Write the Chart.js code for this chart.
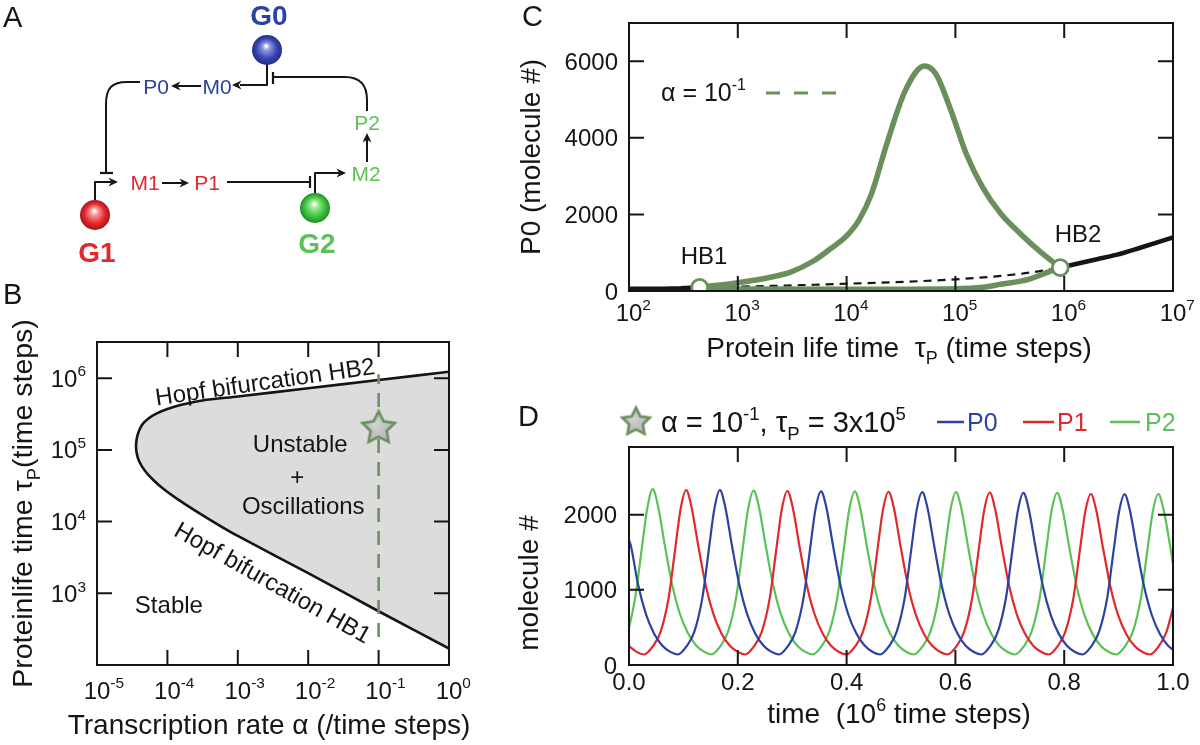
<!DOCTYPE html>
<html><head><meta charset="utf-8">
<script src="https://cdn.jsdelivr.net/npm/chart.js@4/dist/chart.umd.min.js"></script>
<style>
html,body{margin:0;padding:0;background:#fff;}
#wrap{position:relative;width:1200px;height:745px;overflow:hidden;}
#wrap canvas{position:absolute;left:0;top:0;}
</style></head>
<body>
<div id="wrap">
<canvas id="cA" width="1200" height="745"></canvas>
<canvas id="cB" width="1200" height="745"></canvas>
<canvas id="cC" width="1200" height="745"></canvas>
<canvas id="cD" width="1200" height="745"></canvas>
</div>
<script>
// ---------------- DATA ----------------
// Panel A: gene network
const A_genes = ['G0','G1','G2'];
const A_geneX = [267, 95, 315];
const A_geneY = [50, 215, 208];
const A_species = ['P0','M0','M1','P1','M2','P2'];
const A_specX = [156, 217, 145, 207, 366, 367];
const A_specY = [87, 87, 183, 183, 174, 123];

// Panel B: Hopf boundary (alpha, tau), upper branch HB2 -> nose -> lower branch HB1
const bAlpha = [1, 0.1, 0.01, 1e-3, 3.16e-4, 1.58e-4, 1e-4, 7.08e-5, 5.37e-5, 4.37e-5, 3.8e-5, 3.59e-5, 3.67e-5, 3.98e-5, 4.79e-5, 6.31e-5, 8.91e-5, 1.41e-4, 2.51e-4, 5.01e-4, 1e-3, 1e-2, 0.1, 1];
const bTau   = [1.23e6, 9.44e5, 7.24e5, 5.56e5, 4.9e5, 4.27e5, 3.72e5, 3.24e5, 2.75e5, 2.24e5, 1.66e5, 1.2e5, 8.9e4, 6.9e4, 5.13e4, 3.8e4, 2.82e4, 2.04e4, 1.41e4, 9.33e3, 6.31e3, 1.91e3, 5.62e2, 1.7e2];
const bCutAlpha = 0.1;
const bCutTau = [2.45e2, 1.14e6];
const bStar = [0.1, 2.1e5];
const bXExp = ['-5','-4','-3','-2','-1','0'];
const bYExp = ['3','4','5','6'];

// Panel C: bifurcation diagram at alpha = 0.1
const cStableLoTau = [100, 200, 300, 446];
const cStableLoP0  = [58, 62, 70, 95];
const cUnstTau = [446, 1e3, 1e4, 1e5, 4e5, 7.6e5, 9.2e5];
const cUnstP0  = [95, 112, 190, 305, 450, 568, 611];
const cStableHiTau = [9.2e5, 2e6, 3e6, 5e6, 1e7];
const cStableHiP0  = [611, 830, 943, 1130, 1400];
const cMaxTau = [446, 1e3, 2e3, 3.1e3, 5e3, 7e3, 1e4, 1.3e4, 1.7e4, 2.34e4, 3.47e4, 5.2e4, 6.6e4, 9.1e4, 1.26e5, 1.78e5, 2.63e5, 4e5, 5.9e5, 9.2e5];
const cMaxP0  = [95, 218, 360, 500, 790, 1090, 1440, 1850, 2550, 3843, 5240, 5880, 5677, 4716, 3580, 2707, 2009, 1485, 1048, 611];
const cMinTau = [446, 1e3, 1e4, 1e5, 1.8e5, 2.6e5, 4.7e5, 6.9e5, 9.2e5];
const cMinP0  = [95, 55, 45, 60, 100, 175, 305, 480, 611];
const cHBTau = [446, 9.2e5];
const cHBP0  = [95, 611];
const cXExp = ['2','3','4','5','6','7'];
const cYTicks = [0, 2000, 4000, 6000];

// Panel D: time series (time in 1e6 steps, molecule #)
const dP0 = [[0,1660],[0.003,1600],[0.017,1060],[0.031,680],[0.046,420],[0.061,260],[0.076,175],[0.090,140],
[0.105,240],[0.120,440],[0.135,900],[0.147,1550],[0.157,2080],[0.167,2325],[0.177,2100],[0.189,1600],[0.203,1060],[0.217,680],[0.232,420],[0.247,260],[0.262,175],[0.276,140],
[0.291,240],[0.306,440],[0.321,900],[0.333,1550],[0.343,2080],[0.353,2310],[0.363,2090],[0.375,1590],[0.389,1055],[0.403,675],[0.418,418],[0.433,258],[0.448,174],[0.462,140],
[0.477,240],[0.492,440],[0.507,900],[0.519,1545],[0.529,2070],[0.539,2300],[0.549,2080],[0.561,1585],[0.575,1050],[0.589,672],[0.604,416],[0.619,257],[0.634,173],[0.648,140],
[0.663,240],[0.678,440],[0.693,895],[0.705,1540],[0.715,2060],[0.725,2290],[0.735,2070],[0.747,1580],[0.761,1045],[0.775,670],[0.790,414],[0.805,256],[0.820,172],[0.834,140],
[0.849,240],[0.864,440],[0.879,890],[0.891,1530],[0.901,2045],[0.911,2270],[0.921,2050],[0.933,1565],[0.947,1040],[0.961,665],[0.976,412],[0.991,255],[1.0,205]];
const dP1 = [[0,250],[0.014,175],[0.028,140],
[0.043,240],[0.058,440],[0.073,900],[0.085,1550],[0.095,2080],[0.105,2325],[0.115,2100],[0.127,1600],[0.141,1060],[0.155,680],[0.170,420],[0.185,260],[0.200,175],[0.214,140],
[0.229,240],[0.244,440],[0.259,900],[0.271,1550],[0.281,2075],[0.291,2315],[0.301,2095],[0.313,1595],[0.327,1058],[0.341,678],[0.356,419],[0.371,259],[0.386,174],[0.400,140],
[0.415,240],[0.430,440],[0.445,900],[0.457,1548],[0.467,2070],[0.477,2305],[0.487,2085],[0.499,1588],[0.513,1052],[0.527,674],[0.542,417],[0.557,258],[0.572,173],[0.586,140],
[0.601,240],[0.616,440],[0.631,898],[0.643,1542],[0.653,2062],[0.663,2295],[0.673,2075],[0.685,1582],[0.699,1047],[0.713,671],[0.728,415],[0.743,257],[0.758,172],[0.772,140],
[0.787,240],[0.802,440],[0.817,893],[0.829,1535],[0.839,2050],[0.849,2275],[0.859,2055],[0.871,1570],[0.885,1042],[0.899,667],[0.914,413],[0.929,256],[0.944,172],[0.958,140],
[0.973,240],[0.988,440],[1.0,760]];
const dP2 = [[0,490],[0.0115,900],[0.0235,1550],[0.0335,2080],[0.0435,2340],[0.0535,2110],[0.0655,1605],[0.0795,1062],[0.0935,682],[0.1085,421],[0.1235,260],[0.1385,175],[0.152,140],
[0.167,240],[0.182,440],[0.197,900],[0.209,1550],[0.219,2080],[0.229,2320],[0.239,2100],[0.251,1600],[0.265,1060],[0.279,680],[0.294,420],[0.309,260],[0.324,175],[0.338,140],
[0.353,240],[0.368,440],[0.383,900],[0.395,1548],[0.405,2072],[0.415,2310],[0.425,2090],[0.437,1590],[0.451,1054],[0.465,676],[0.480,418],[0.495,258],[0.510,174],[0.524,140],
[0.539,240],[0.554,440],[0.569,898],[0.581,1544],[0.591,2066],[0.601,2300],[0.611,2080],[0.623,1585],[0.637,1050],[0.651,672],[0.666,416],[0.681,257],[0.696,173],[0.710,140],
[0.725,240],[0.740,440],[0.755,895],[0.767,1538],[0.777,2058],[0.787,2290],[0.797,2070],[0.809,1578],[0.823,1046],[0.837,669],[0.852,414],[0.867,256],[0.882,172],[0.896,140],
[0.911,240],[0.926,440],[0.941,890],[0.953,1530],[0.963,2045],[0.973,2275],[0.983,2055],[0.995,1570],[1.0,1350]];
const dSeries = ['P0','P1','P2'];
const dXTicks = [0, 0.2, 0.4, 0.6, 0.8, 1.0];
const dXLabels = ['0.0','0.2','0.4','0.6','0.8','1.0'];
const dYTicks = [0, 1000, 2000];

// ---------------- STYLE / HELPERS ----------------
const FF = '"Liberation Sans", Helvetica, Arial, sans-serif';
const BLUE = '#2c42a3', RED = '#e0282d', GREEN = '#5cc257', OLIVE = '#6a8f5b', INK = '#151515';
function font(sz, bold){ return (bold ? 'bold ' : '') + sz.toFixed(1) + 'px ' + FF; }
function sup(t){ return [t, 0.64, -0.43]; }
function sub(t){ return [t, 0.64, 0.26]; }
function txt(t){ return [t, 1, 0]; }
function pow10(e){ return [txt('10'), sup(e)]; }
function drawRich(ctx, parts, x, y, size, o){
  o = o || {};
  ctx.save();
  ctx.fillStyle = o.color || INK; ctx.textBaseline = 'alphabetic'; ctx.textAlign = 'left';
  let total = 0;
  for (const p of parts){ ctx.font = font(size*p[1], o.bold); total += ctx.measureText(p[0]).width; }
  let x0 = x;
  if (o.align === 'center') x0 = x - total/2;
  else if (o.align === 'right') x0 = x - total;
  else if (o.align === 'base'){ ctx.font = font(size, o.bold); x0 = x - ctx.measureText(parts[0][0]).width/2; }
  const base = y + size*0.355;
  for (const p of parts){ ctx.font = font(size*p[1], o.bold); ctx.fillText(p[0], x0, base + p[2]*size); x0 += ctx.measureText(p[0]).width; }
  ctx.restore();
}
function drawRot(ctx, parts, x, y, size, ang, o){
  ctx.save(); ctx.translate(x, y); ctx.rotate(ang);
  drawRich(ctx, parts, 0, 0, size, Object.assign({align:'center'}, o||{}));
  ctx.restore();
}
function makeStar(r, fill, stroke, lw){
  const s = Math.ceil(2*r + 2*lw + 4);
  const c = document.createElement('canvas'); c.width = s; c.height = s;
  const g = c.getContext('2d');
  g.translate(s/2, s/2 + r*0.08);
  g.beginPath();
  for (let i = 0; i < 10; i++){
    const rr = (i % 2 === 0) ? r : r*0.5;
    const a = -Math.PI/2 + i*Math.PI/5;
    const px = rr*Math.cos(a), py = rr*Math.sin(a);
    i ? g.lineTo(px, py) : g.moveTo(px, py);
  }
  g.closePath();
  const gr = g.createRadialGradient(-r*0.2, -r*0.3, 1, 0, 0, r);
  gr.addColorStop(0, '#d2d2d2'); gr.addColorStop(1, fill);
  g.fillStyle = gr; g.fill();
  g.lineJoin = 'miter'; g.strokeStyle = stroke; g.lineWidth = lw; g.stroke();
  return c;
}
function makeSphere(r, light, col, dark){
  const s = 2*r + 2;
  const c = document.createElement('canvas'); c.width = s; c.height = s;
  const g = c.getContext('2d');
  g.translate(s/2, s/2);
  const gr = g.createRadialGradient(-r*0.05, -r*0.28, r*0.04, 0, 0, r);
  gr.addColorStop(0, '#ffffff'); gr.addColorStop(0.22, light); gr.addColorStop(0.65, col); gr.addColorStop(1, dark);
  g.beginPath(); g.arc(0, 0, r, 0, Math.PI*2); g.fillStyle = gr; g.fill();
  return c;
}
function baseOpts(pad, xs, ys){
  return {
    responsive: false, animation: false, events: [],
    layout: { padding: pad, autoPadding: false },
    plugins: { legend: {display:false}, tooltip: {enabled:false}, title: {display:false} },
    scales: { x: Object.assign({display:false}, xs), y: Object.assign({display:false}, ys) }
  };
}
function framePlugin(cfg){
  return {
    id: 'frame' + cfg.name,
    afterDatasetsDraw(chart){
      const ctx = chart.ctx, a = chart.chartArea, xs = chart.scales.x, ys = chart.scales.y;
      const L = cfg.tickLen;
      ctx.save();
      ctx.strokeStyle = INK; ctx.lineWidth = 2; ctx.lineCap = 'butt';
      ctx.beginPath();
      for (const v of cfg.xTicks){ const px = xs.getPixelForValue(v);
        ctx.moveTo(px, a.top); ctx.lineTo(px, a.top + L); ctx.moveTo(px, a.bottom); ctx.lineTo(px, a.bottom - L); }
      for (const v of cfg.yTicks){ const py = ys.getPixelForValue(v);
        ctx.moveTo(a.left, py); ctx.lineTo(a.left + L, py); ctx.moveTo(a.right, py); ctx.lineTo(a.right - L, py); }
      ctx.stroke();
      ctx.strokeRect(a.left, a.top, a.right - a.left, a.bottom - a.top);
      ctx.restore();
      cfg.xLabTicks.forEach((v, i) => drawRich(ctx, cfg.xFmt(i), xs.getPixelForValue(v), a.bottom + cfg.xGap, cfg.tickSize, {align: cfg.xAlign}));
      cfg.yLabTicks.forEach((v, i) => drawRich(ctx, cfg.yFmt(i), a.left - cfg.yGap, ys.getPixelForValue(v), cfg.tickSize, {align:'right'}));
      if (cfg.extra) cfg.extra(chart, ctx, a, xs, ys);
    }
  };
}

// ---------------- PANEL A ----------------
const geneColors = [['#8f98e0', '#3b47b3', '#232d86'], ['#f79a9a', '#e62a2e', '#a81418'], ['#9ee89a', '#3fc53d', '#24892a']];
const geneText = [BLUE, RED, GREEN];
const specText = [BLUE, BLUE, RED, RED, GREEN, GREEN];
const spheres = geneColors.map(c => makeSphere(15, c[0], c[1], c[2]));
const netPlugin = {
  id: 'net',
  beforeDatasetsDraw(chart){
    const ctx = chart.ctx, xs = chart.scales.x, ys = chart.scales.y;
    const P = (x, y) => [xs.getPixelForValue(x), ys.getPixelForValue(y)];
    ctx.save(); ctx.strokeStyle = INK; ctx.fillStyle = INK; ctx.lineWidth = 2; ctx.lineJoin = 'round';
    const ln = pts => { ctx.beginPath(); pts.forEach((p, i) => { const q = P(p[0], p[1]); i ? ctx.lineTo(q[0], q[1]) : ctx.moveTo(q[0], q[1]); }); ctx.stroke(); };
    const arrow = (x, y, dx, dy) => { const q = P(x, y); const Lh = 9.5, W = 4.5; const px = -dy, py = dx;
      ctx.beginPath(); ctx.moveTo(q[0], q[1]); ctx.lineTo(q[0] - dx*Lh + px*W, q[1] - dy*Lh + py*W);
      ctx.lineTo(q[0] - dx*Lh*0.7, q[1] - dy*Lh*0.7); ctx.lineTo(q[0] - dx*Lh - px*W, q[1] - dy*Lh - py*W); ctx.closePath(); ctx.fill(); };
    const bez = (p0, segs) => { ctx.beginPath(); let q = P(p0[0], p0[1]); ctx.moveTo(q[0], q[1]);
      for (const s of segs){ if (s.length === 2){ q = P(s[0], s[1]); ctx.lineTo(q[0], q[1]); }
        else { const c1 = P(s[0], s[1]), c2 = P(s[2], s[3]), e = P(s[4], s[5]); ctx.bezierCurveTo(c1[0], c1[1], c2[0], c2[1], e[0], e[1]); } }
      ctx.stroke(); };
    // G0 promoter -> M0
    ln([[267, 64], [267, 85], [240, 85]]); arrow(232, 85, -1, 0);
    // P2 -| G0
    bez([367, 111], [[367, 100], [367, 86, 361, 77, 345, 77], [273, 77]]);
    ctx.lineWidth = 2.2; ln([[273, 72], [273, 84]]); ctx.lineWidth = 2;
    // M0 -> P0
    ln([[201, 86], [178, 86]]); arrow(171, 86, -1, 0);
    // P0 -| G1
    bez([140, 82], [[127, 82], [112, 82, 106, 88, 106, 104], [106, 173]]);
    ctx.lineWidth = 2.2; ln([[100, 173], [113, 173]]); ctx.lineWidth = 2;
    // G1 promoter -> M1
    ln([[95, 200], [95, 182], [111, 182]]); arrow(118, 182, 1, 0);
    // M1 -> P1
    ln([[162, 183], [182, 183]]); arrow(189, 183, 1, 0);
    // P1 -| G2
    ln([[227, 182], [310, 182]]);
    ctx.lineWidth = 2.2; ln([[310, 176], [310, 188]]); ctx.lineWidth = 2;
    // G2 promoter -> M2
    ln([[315, 193], [315, 173], [339, 173]]); arrow(346, 173, 1, 0);
    // M2 -> P2
    ln([[367, 162], [367, 140]]); arrow(367, 133, 0, -1);
    ctx.restore();
  },
  afterDatasetsDraw(chart){
    const ctx = chart.ctx, xs = chart.scales.x, ys = chart.scales.y;
    A_species.forEach((s, i) => drawRich(ctx, [txt(s)], xs.getPixelForValue(A_specX[i]), ys.getPixelForValue(A_specY[i]), 21, {align:'center', color: specText[i]}));
    const lblDy = [-35, 37, 35];
    A_genes.forEach((g, i) => drawRich(ctx, [txt(g)], xs.getPixelForValue(A_geneX[i]) + 2, ys.getPixelForValue(A_geneY[i]) + lblDy[i], 28, {align:'center', bold:true, color: geneText[i]}));
    drawRich(ctx, [txt('A')], 3, 17, 29, {});
  }
};
new Chart(document.getElementById('cA'), {
  type: 'scatter',
  data: { datasets: [{ data: A_genes.map((g, i) => ({x: A_geneX[i], y: A_geneY[i]})), pointStyle: spheres, pointRadius: 15 }] },
  options: baseOpts({left:0, top:0, right:800, bottom:465}, {type:'linear', min:0, max:400}, {type:'linear', min:0, max:280, reverse:true}),
  plugins: [netPlugin]
});

// ---------------- PANEL B ----------------
const starB = makeStar(17, '#b0b0b0', OLIVE, 2.6);
new Chart(document.getElementById('cB'), {
  type: 'scatter',
  data: { datasets: [
    { data: [{x: bStar[0], y: bStar[1]}], pointStyle: starB, pointRadius: 17, clip: false },
    { data: bCutTau.map(t => ({x: bCutAlpha, y: t})), showLine: true, borderColor: '#6d9262', borderWidth: 2.6,
      borderDash: [14, 9], pointRadius: 0 },
    { data: bAlpha.map((v, i) => ({x: v, y: bTau[i]})), showLine: true, fill: 'shape', backgroundColor: '#dcdcdc',
      borderColor: INK, borderWidth: 2.6, pointRadius: 0, tension: 0.3 }
  ]},
  options: baseOpts({left:97, top:342, right:751, bottom:80}, {type:'logarithmic', min:1e-5, max:1}, {type:'logarithmic', min:100, max:3.2e6}),
  plugins: [framePlugin({
    name: 'B', tickLen: 15, tickSize: 24,
    xTicks: bXExp.map(e => Math.pow(10, +e)), yTicks: bYExp.map(e => Math.pow(10, +e)),
    xLabTicks: bXExp.map(e => Math.pow(10, +e)), yLabTicks: bYExp.map(e => Math.pow(10, +e)),
    xFmt: i => pow10(bXExp[i]), yFmt: i => pow10(bYExp[i]), xGap: 25, yGap: 11, xAlign: 'base',
    extra(chart, ctx, a, xs, ys){
      const X = v => xs.getPixelForValue(v), Y = v => ys.getPixelForValue(v);
      drawRich(ctx, [txt('Transcription rate α (/time steps)')], (a.left + a.right)/2 - 4, 724, 28, {align:'center'});
      drawRot(ctx, [txt('Proteinlife time τ'), sub('P'), txt('(time steps)')], 22, (a.top + a.bottom)/2, 28.5, -Math.PI/2);
      drawRot(ctx, [txt('Hopf bifurcation HB2')], X(2.43e-3), Y(9.1e5), 24, -8.2*Math.PI/180);
      drawRot(ctx, [txt('Hopf bifurcation HB1')], X(3.16e-3), Y(1.43e3), 24, 29.5*Math.PI/180);
      drawRich(ctx, [txt('Unstable')], X(7.7e-3), Y(1.24e5), 24, {align:'center'});
      drawRich(ctx, [txt('+')], X(7.0e-3), Y(4.3e4), 24, {align:'center'});
      drawRich(ctx, [txt('Oscillations')], X(8.5e-3), Y(1.7e4), 24, {align:'center'});
      drawRich(ctx, [txt('Stable')], X(1.05e-4), Y(705), 24, {align:'center'});
      drawRich(ctx, [txt('B')], 3, 294, 29, {});
    }
  })]
});

// ---------------- PANEL C ----------------
const xy = (xa, ya) => xa.map((v, i) => ({x: v, y: ya[i]}));
new Chart(document.getElementById('cC'), {
  type: 'scatter',
  data: { datasets: [
    { data: xy(cHBTau, cHBP0), pointRadius: 8, pointBackgroundColor: '#ffffff', pointBorderColor: OLIVE, pointBorderWidth: 2.8 },
    { data: xy(cMaxTau, cMaxP0), showLine: true, borderColor: OLIVE, borderWidth: 5.5, pointRadius: 0, cubicInterpolationMode: 'monotone' },
    { data: xy(cMinTau, cMinP0), showLine: true, borderColor: OLIVE, borderWidth: 5.5, pointRadius: 0, cubicInterpolationMode: 'monotone' },
    { data: xy(cUnstTau, cUnstP0), showLine: true, borderColor: INK, borderWidth: 2.2, borderDash: [8, 6], pointRadius: 0, cubicInterpolationMode: 'monotone' },
    { data: xy(cStableLoTau, cStableLoP0), showLine: true, borderColor: INK, borderWidth: 4.5, pointRadius: 0 },
    { data: xy(cStableHiTau, cStableHiP0), showLine: true, borderColor: INK, borderWidth: 4.5, pointRadius: 0, cubicInterpolationMode: 'monotone' }
  ]},
  options: baseOpts({left:629, top:23, right:27, bottom:454}, {type:'logarithmic', min:100, max:1e7}, {type:'linear', min:0, max:7000}),
  plugins: [framePlugin({
    name: 'C', tickLen: 15, tickSize: 24,
    xTicks: cXExp.map(e => Math.pow(10, +e)), yTicks: cYTicks,
    xLabTicks: cXExp.map(e => Math.pow(10, +e)), yLabTicks: cYTicks,
    xFmt: i => pow10(cXExp[i]), yFmt: i => [txt(String(cYTicks[i]))], xGap: 21, yGap: 11, xAlign: 'base',
    extra(chart, ctx, a, xs, ys){
      const X = v => xs.getPixelForValue(v), Y = v => ys.getPixelForValue(v);
      drawRich(ctx, [txt('Protein life time  τ'), sub('P'), txt(' (time steps)')], (a.left + a.right)/2 - 2, 347, 28, {align:'center'});
      drawRot(ctx, [txt('P0 (molecule #)')], 530, (a.top + a.bottom)/2, 28, -Math.PI/2);
      drawRich(ctx, [txt('α = 10'), sup('-1')], 661, 92, 25, {});
      ctx.save(); ctx.strokeStyle = OLIVE; ctx.lineWidth = 3; ctx.setLineDash([14, 14]);
      ctx.beginPath(); ctx.moveTo(766, 93); ctx.lineTo(845, 93); ctx.stroke(); ctx.restore();
      drawRich(ctx, [txt('HB1')], X(489), Y(940), 24, {align:'center'});
      drawRich(ctx, [txt('HB2')], X(1.34e6), Y(1515), 24, {align:'center'});
      drawRich(ctx, [txt('C')], 522, 16, 29, {});
    }
  })]
});

// ---------------- PANEL D ----------------
const starD = makeStar(14.5, '#b0b0b0', OLIVE, 2.6);
const dColors = [BLUE, RED, GREEN];
new Chart(document.getElementById('cD'), {
  type: 'scatter',
  data: { datasets: [dP0, dP1, dP2].map((s, k) => ({
    label: dSeries[k], data: s.map(p => ({x: p[0], y: p[1]})), showLine: true, borderColor: dColors[k],
    borderWidth: 2.2, pointRadius: 0, cubicInterpolationMode: 'monotone' })) },
  options: baseOpts({left:629, top:447, right:27, bottom:80}, {type:'linear', min:0, max:1}, {type:'linear', min:0, max:2900}),
  plugins: [framePlugin({
    name: 'D', tickLen: 15, tickSize: 24,
    xTicks: dXTicks, yTicks: dYTicks, xLabTicks: dXTicks, yLabTicks: dYTicks,
    xFmt: i => [txt(dXLabels[i])], yFmt: i => [txt(String(dYTicks[i]))], xGap: 16, yGap: 12, xAlign: 'center',
    extra(chart, ctx, a, xs, ys){
      drawRich(ctx, [txt('time  (10'), sup('6'), txt(' time steps)')], (a.left + a.right)/2 - 2, 713, 28, {align:'center'});
      drawRot(ctx, [txt('molecule #')], 528, 583, 28, -Math.PI/2);
      ctx.drawImage(starD, 636 - starD.width/2, 421 - starD.height/2);
      drawRich(ctx, [txt('α = 10'), sup('-1'), txt(', τ'), sub('P'), txt(' = 3x10'), sup('5')], 661, 422, 29, {});
      const legX = [[937, 964, 967], [1023, 1054, 1057], [1110, 1140, 1145]];
      legX.forEach((L, k) => {
        ctx.save(); ctx.strokeStyle = dColors[k]; ctx.lineWidth = 2.5; ctx.beginPath(); ctx.moveTo(L[0], 422); ctx.lineTo(L[1], 422); ctx.stroke(); ctx.restore();
        drawRich(ctx, [txt(dSeries[k])], L[2], 422, 25, {color: dColors[k]});
      });
      drawRich(ctx, [txt('D')], 518, 416, 29, {});
    }
  })]
});
</script>
</body></html>
